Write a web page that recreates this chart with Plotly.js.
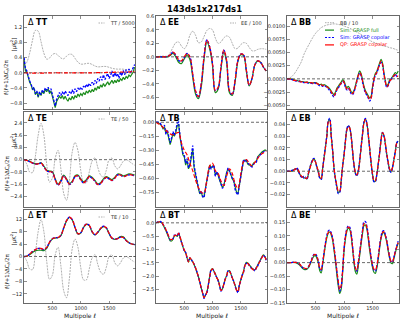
<!DOCTYPE html>
<html><head><meta charset="utf-8">
<script src="https://cdn.plot.ly/plotly-3.0.1.min.js"></script>
<style>html,body{margin:0;padding:0;background:#fff}#chart{width:407px;height:326px}</style>
</head><body><div id="chart"></div>
<script>
// ---------------- data ----------------
const ELL50=[2,50,100,150,200,250,300,350,400,450,
 500,550,600,650,700,750,800,850,900,950,
 1000,1050,1100,1150,1200,1250,1300,1350,1400,1450,
 1500,1550,1600,1650,1700,1750,1800,1850,1900,1950];
const ELL25=[2,25,50,75,100,125,150,175,200,225,
 250,275,300,325,350,375,400,425,450,475,
 500,525,550,575,600,625,650,675,700,725,
 750,775,800,825,850,875,900,925,950,975,
 1000,1025,1050,1075,1100,1125,1150,1175,1200,1225,
 1250,1275,1300,1325,1350,1375,1400,1425,1450,1475,
 1500,1525,1550,1575,1600,1625,1650,1675,1700,1725,
 1750,1775,1800,1825,1850,1875,1900,1925,1950];
const XTICKS=[500,1000,1500];

// reference spectra (muK^2), shown scaled
const TT_REF=[1000,1400,2600,4300,5600,5500,4100,2600,1800,1950,
 2400,2550,2300,1950,1850,2200,2450,2400,1900,1400,
 1150,1150,1230,1250,1100,900,780,800,840,830,
 720,590,520,480,490,470,400,350,310,290];
const EE_REF=[0,0.5,1,1,1,6,14,21,22,16,
 12,18,32,38,32,21,22,30,39,42,
 40,28,20,22,28,31,29,20,12,13,
 18,21,20,14,9,9,11,12,12,11];
const BB_REF=[0,0.002,0.006,0.013,0.022,0.032,0.047,0.058,0.068,0.078,
 0.086,0.092,0.097,0.100,0.102,0.103,0.104,0.104,0.103,0.102,
 0.100,0.098,0.096,0.093,0.090,0.087,0.084,0.080,0.077,0.073,
 0.070,0.068,0.066,0.064,0.062,0.061,0.059,0.058,0.056,0.054];
const TE_REF=[0,-15,-40,-42,10,80,118,80,-15,-73,
 -60,5,30,-30,-110,-132,-70,25,56,30,
 -35,-75,-75,-40,-5,6,-25,-50,-57,-35,
 0,5,-20,-30,-20,-5,0,-5,-12,-18];

// Delta TT
const TT_GREEN=[0.35,0.05,0.02,-0.12,-0.25,-0.32,-0.45,-0.40,-0.58,-0.50,
 -0.65,-0.52,-0.60,-0.48,-0.55,-0.44,-0.50,-0.42,-0.55,-0.48,
 -0.65,-0.76,-0.92,-0.76,-0.70,-0.62,-0.68,-0.60,-0.70,-0.62,
 -0.70,-0.75,-0.66,-0.72,-0.62,-0.70,-0.60,-0.66,-0.56,-0.62,
 -0.55,-0.60,-0.52,-0.58,-0.48,-0.54,-0.46,-0.52,-0.44,-0.50,
 -0.40,-0.46,-0.36,-0.42,-0.32,-0.38,-0.28,-0.36,-0.30,-0.24,
 -0.32,-0.26,-0.20,-0.28,-0.20,-0.26,-0.18,-0.24,-0.16,-0.20,
 -0.12,-0.18,-0.10,-0.14,-0.06,-0.10,-0.04,0.02,0.15];
const TT_BLUE=[0.40,0.10,0.05,-0.10,-0.22,-0.30,-0.42,-0.38,-0.55,-0.48,
 -0.62,-0.50,-0.58,-0.45,-0.52,-0.40,-0.46,-0.38,-0.50,-0.42,
 -0.60,-0.72,-0.88,-0.70,-0.62,-0.52,-0.60,-0.50,-0.58,-0.48,
 -0.55,-0.60,-0.50,-0.56,-0.45,-0.55,-0.42,-0.50,-0.40,-0.46,
 -0.38,-0.44,-0.35,-0.40,-0.30,-0.38,-0.28,-0.34,-0.25,-0.32,
 -0.20,-0.28,-0.15,-0.22,-0.10,-0.20,-0.05,-0.18,-0.10,-0.02,
 -0.15,-0.08,0.05,-0.12,0.00,-0.10,-0.02,-0.15,0.02,-0.08,
 0.06,-0.05,0.08,0.00,0.10,0.02,0.05,0.12,0.22];
const TT_RED=[0,0,-0.01,-0.01,-0.01,-0.01,-0.01,-0.01,-0.005,-0.005,
 -0.005,0,0,0,0,0,0,0,0,0,
 0,0,0,0,0,0,0.005,0.005,0.005,0.01,
 0.01,0.01,0.015,0.015,0.02,0.02,0.025,0.025,0.03,0.03];

// Delta EE
const EE_GREEN=[0,0,0,0,0,0.02,0.05,0.0,-0.08,-0.10,
 -0.03,0.03,-0.04,-0.30,-0.55,-0.62,-0.45,-0.04,0.22,0.12,
 -0.13,-0.53,-0.48,-0.18,0.07,-0.08,-0.53,-0.57,-0.37,-0.07,
 0.03,0.02,-0.22,-0.43,-0.32,-0.12,-0.06,-0.08,-0.15,-0.21];
const EE_BLUE=[0,0,0,0,0,0.03,0.07,0.02,-0.05,-0.07,
 -0.01,0.05,0.0,-0.26,-0.51,-0.60,-0.41,0.0,0.25,0.15,
 -0.10,-0.50,-0.46,-0.15,0.10,-0.05,-0.50,-0.56,-0.35,-0.05,
 0.04,0.03,-0.20,-0.42,-0.32,-0.12,-0.06,-0.08,-0.15,-0.21];
const EE_RED=[0,0,0,0,0,0.03,0.07,0.03,-0.04,-0.06,
 0.0,0.05,0.0,-0.25,-0.50,-0.59,-0.40,0.0,0.25,0.15,
 -0.10,-0.50,-0.45,-0.15,0.10,-0.05,-0.50,-0.55,-0.35,-0.05,
 0.04,0.03,-0.20,-0.42,-0.32,-0.12,-0.06,-0.08,-0.15,-0.21];

// Delta BB
const BB_GREEN=[0,0,0,0,-0.0001,-0.0002,-0.0003,-0.0003,-0.0004,-0.0004,
 -0.0005,-0.0005,-0.0006,-0.0006,-0.0006,-0.0007,-0.0007,-0.0007,-0.0008,-0.0007,
 -0.0007,-0.0008,-0.0010,-0.0011,-0.0010,-0.0012,-0.0011,-0.0012,-0.0014,-0.0016,
 -0.0019,-0.0023,-0.0027,-0.0030,-0.0025,-0.0018,-0.0014,-0.0010,-0.0006,-0.0002,
 -0.0004,-0.0012,-0.0017,-0.0014,-0.0018,-0.0024,-0.0026,-0.0022,-0.0013,-0.0002,
 0.0008,0.0015,0.0010,-0.0002,-0.0014,-0.0022,-0.0027,-0.0032,-0.0036,-0.0033,
 -0.0015,0.0000,0.0010,0.0014,0.0022,0.0030,0.0037,0.0030,0.0012,-0.0003,
 -0.0013,-0.0010,-0.0002,0.0000,0.0004,0.0008,0.0012,0.0010,0.0015];
const BB_BLUE=[0,0,-0.0001,-0.0001,-0.0002,-0.0003,-0.0004,-0.0004,-0.0005,-0.0005,
 -0.0006,-0.0006,-0.0007,-0.0007,-0.0007,-0.0008,-0.0008,-0.0008,-0.0009,-0.0008,
 -0.0008,-0.0010,-0.0011,-0.0013,-0.0012,-0.0014,-0.0013,-0.0014,-0.0016,-0.0019,
 -0.0022,-0.0027,-0.0031,-0.0034,-0.0028,-0.0021,-0.0017,-0.0013,-0.0009,-0.0005,
 -0.0007,-0.0016,-0.0021,-0.0018,-0.0022,-0.0028,-0.0030,-0.0025,-0.0016,-0.0005,
 0.0005,0.0011,0.0006,-0.0006,-0.0018,-0.0026,-0.0031,-0.0036,-0.0042,-0.0037,
 -0.0019,-0.0003,0.0007,0.0011,0.0019,0.0027,0.0031,0.0026,0.0009,-0.0006,
 -0.0016,-0.0013,-0.0005,-0.0001,0.0003,0.0005,0.0009,0.0005,0.0007];
const BB_RED=[0,0,0,-0.0001,-0.0002,-0.0003,-0.0003,-0.0004,-0.0004,-0.0005,
 -0.0006,-0.0005,-0.0006,-0.0007,-0.0006,-0.0007,-0.0008,-0.0007,-0.0008,-0.0008,
 -0.0007,-0.0009,-0.0010,-0.0012,-0.0011,-0.0013,-0.0012,-0.0013,-0.0015,-0.0017,
 -0.0020,-0.0024,-0.0029,-0.0032,-0.0027,-0.0020,-0.0016,-0.0012,-0.0008,-0.0004,
 -0.0006,-0.0014,-0.0019,-0.0016,-0.0020,-0.0026,-0.0028,-0.0024,-0.0015,-0.0004,
 0.0006,0.0012,0.0008,-0.0004,-0.0016,-0.0024,-0.0029,-0.0034,-0.0039,-0.0036,
 -0.0018,-0.0002,0.0008,0.0012,0.0020,0.0028,0.0034,0.0028,0.0010,-0.0005,
 -0.0015,-0.0012,-0.0004,-0.0002,0.0002,0.0006,0.0008,0.0004,0.0006];

// Delta TE
const TE_GREEN=[0,-0.04,-0.10,-0.20,-0.26,-0.26,-0.20,-0.42,-0.68,-0.74,
 -0.78,-1.25,-1.60,-1.35,-1.00,-1.25,-1.55,-1.40,-1.05,-1.00,
 -1.25,-1.45,-1.30,-1.05,-1.15,-1.35,-1.57,-1.50,-1.25,-1.10,
 -1.20,-1.30,-1.15,-0.93,-0.95,-1.05,-1.00,-0.93,-0.95,-1.00];
const TE_BLUE=[0,-0.05,-0.13,-0.23,-0.29,-0.29,-0.23,-0.46,-0.73,-0.79,
 -0.83,-1.31,-1.66,-1.41,-1.06,-1.31,-1.61,-1.46,-1.11,-1.06,
 -1.31,-1.51,-1.36,-1.11,-1.21,-1.41,-1.63,-1.56,-1.31,-1.16,
 -1.26,-1.36,-1.21,-0.99,-1.01,-1.11,-1.06,-0.99,-1.01,-1.06];
const TE_RED=[0,-0.05,-0.12,-0.22,-0.28,-0.28,-0.22,-0.45,-0.72,-0.78,
 -0.82,-1.30,-1.65,-1.40,-1.05,-1.30,-1.60,-1.45,-1.10,-1.05,
 -1.30,-1.50,-1.35,-1.10,-1.20,-1.40,-1.62,-1.55,-1.30,-1.15,
 -1.25,-1.35,-1.20,-0.98,-1.00,-1.10,-1.05,-0.98,-1.00,-1.05];

// Delta TB
const TB_GREEN=[0.0,0.0,-0.01,-0.02,-0.04,-0.07,-0.05,-0.12,-0.10,-0.18,
 -0.24,-0.19,-0.12,-0.15,-0.11,-0.04,-0.02,-0.16,-0.26,-0.35,
 -0.37,-0.46,-0.41,-0.50,-0.47,-0.37,-0.29,-0.49,-0.57,-0.67,
 -0.71,-0.77,-0.75,-0.80,-0.80,-0.71,-0.61,-0.53,-0.46,-0.49,
 -0.47,-0.47,-0.57,-0.54,-0.57,-0.62,-0.66,-0.70,-0.68,-0.59,
 -0.54,-0.50,-0.52,-0.56,-0.61,-0.63,-0.71,-0.75,-0.77,-0.67,
 -0.57,-0.46,-0.41,-0.41,-0.41,-0.45,-0.46,-0.46,-0.47,-0.44,
 -0.43,-0.42,-0.37,-0.35,-0.33,-0.32,-0.31,-0.30,-0.30];
const TB_BLUE=[0.0,0.0,0.0,-0.01,-0.03,-0.06,-0.03,-0.13,-0.08,-0.16,
 -0.22,-0.17,-0.10,-0.14,-0.09,-0.01,0.00,-0.14,-0.24,-0.33,
 -0.35,-0.44,-0.39,-0.49,-0.45,-0.34,-0.25,-0.47,-0.55,-0.66,
 -0.70,-0.76,-0.74,-0.80,-0.81,-0.72,-0.62,-0.54,-0.47,-0.50,
 -0.48,-0.46,-0.58,-0.53,-0.56,-0.62,-0.67,-0.71,-0.69,-0.60,
 -0.55,-0.49,-0.53,-0.55,-0.60,-0.62,-0.72,-0.76,-0.78,-0.68,
 -0.58,-0.47,-0.40,-0.42,-0.40,-0.44,-0.45,-0.47,-0.48,-0.45,
 -0.44,-0.43,-0.38,-0.36,-0.34,-0.33,-0.32,-0.31,-0.31];
const TB_RED=[0,-0.02,-0.04,-0.07,-0.10,-0.125,-0.135,-0.12,-0.11,-0.22,
 -0.30,-0.35,-0.44,-0.52,-0.62,-0.70,-0.75,-0.76,-0.62,-0.47,
 -0.44,-0.52,-0.55,-0.63,-0.68,-0.58,-0.50,-0.55,-0.66,-0.71,
 -0.56,-0.42,-0.40,-0.44,-0.47,-0.43,-0.39,-0.35,-0.33,-0.31];

// Delta EB
const EB_GREEN=[0,0,0,0,0.0005,0.0015,0.002,0.002,0.0,-0.0025,
 -0.0045,-0.005,-0.0055,-0.006,-0.0065,-0.0025,0.0025,0.0065,0.0095,0.0105,
 0.008,0.0035,-0.0005,-0.0055,-0.0065,0.002,0.0115,0.0205,0.0305,0.0425,
 0.044,0.0305,0.018,0.0025,-0.0065,-0.013,-0.018,-0.0175,-0.0085,0.004,
 0.0135,0.0255,0.0355,0.0385,0.037,0.030,0.0175,0.0055,-0.0015,-0.0035,
 0.000,0.0085,0.0205,0.0315,0.0415,0.0445,0.041,0.0315,0.0195,0.0075,
 -0.0025,-0.0085,-0.0085,-0.003,0.006,0.0155,0.0265,0.033,0.0305,0.0235,
 0.0145,0.0075,0.0015,-0.0005,0.003,0.0095,0.0165,0.024,0.0255];
const EB_BLUE=[0,0,0,0.0005,0.001,0.002,0.0015,0.003,0.0,-0.003,
 -0.005,-0.004,-0.006,-0.005,-0.007,-0.002,0.003,0.007,0.010,0.011,
 0.008,0.003,-0.001,-0.006,-0.007,0.002,0.012,0.021,0.031,0.043,
 0.045,0.031,0.018,0.002,-0.007,-0.014,-0.019,-0.018,-0.009,0.004,
 0.014,0.026,0.036,0.039,0.037,0.030,0.017,0.005,-0.002,-0.004,
 0.000,0.009,0.021,0.032,0.042,0.045,0.041,0.031,0.019,0.007,
 -0.003,-0.009,-0.009,-0.003,0.006,0.016,0.027,0.033,0.030,0.023,
 0.014,0.007,0.001,-0.001,0.003,0.010,0.017,0.024,0.026];
const EB_RED=[0,0,0,0,0.0005,0.001,0.002,0.0025,0.0005,-0.002,
 -0.004,-0.005,-0.005,-0.006,-0.006,-0.002,0.002,0.006,0.009,0.010,
 0.008,0.004,0.000,-0.005,-0.006,0.002,0.011,0.020,0.030,0.042,
 0.043,0.030,0.018,0.003,-0.006,-0.012,-0.017,-0.017,-0.008,0.004,
 0.013,0.025,0.035,0.038,0.037,0.030,0.018,0.006,-0.001,-0.003,
 0.000,0.008,0.020,0.031,0.041,0.044,0.041,0.032,0.020,0.008,
 -0.002,-0.008,-0.008,-0.003,0.006,0.015,0.026,0.033,0.031,0.024,
 0.015,0.008,0.002,0.000,0.003,0.009,0.016,0.024,0.025];

// Delta ET
const ET_GREEN=[0,0.1,0.6,1.3,1.8,2.0,2.0,1.9,2.6,4.4,
 5.6,5.9,6.0,6.7,9.1,11.4,12.5,11.7,9.2,7.2,
 7.5,9.3,10.3,9.9,7.9,6.9,7.7,8.9,9.6,9.1,
 7.3,5.8,5.5,5.8,6.4,6.3,5.2,4.4,4.0,3.8];
const ET_BLUE=[0,0.1,0.8,1.6,2.2,2.6,2.5,2.2,2.9,4.6,
 5.7,6.0,6.1,6.8,9.2,11.5,12.6,11.8,9.3,7.3,
 7.6,9.4,10.4,10.0,8.0,7.0,7.8,9.0,9.7,9.2,
 7.4,5.9,5.6,5.7,6.2,6.1,5.1,4.4,4.0,3.8];
const ET_RED=[0,0.1,0.8,1.6,2.2,2.7,2.6,2.2,2.9,4.6,
 5.7,6.0,6.1,6.8,9.2,11.5,12.6,11.8,9.3,7.3,
 7.6,9.4,10.4,10.0,8.0,7.0,7.8,9.0,9.7,9.2,
 7.4,5.9,5.6,5.7,6.2,6.1,5.1,4.4,4.0,3.8];

// Delta BT
const BT_GREEN=[0.0,0.02,0.03,0.03,0.01,-0.08,-0.18,-0.29,-0.42,-0.55,
 -0.67,-0.68,-0.62,-0.50,-0.47,-0.51,-0.40,-0.54,-0.71,-0.89,
 -1.03,-1.13,-1.31,-1.47,-1.31,-1.39,-1.46,-1.57,-1.69,-1.86,
 -2.01,-2.23,-2.43,-2.63,-2.79,-2.71,-2.59,-2.34,-2.01,-1.77,
 -1.71,-1.81,-1.91,-2.05,-2.14,-2.34,-2.52,-2.47,-2.29,-2.11,
 -1.97,-1.81,-1.79,-1.91,-2.05,-2.19,-2.33,-2.51,-2.57,-2.34,
 -2.14,-1.97,-1.81,-1.59,-1.48,-1.50,-1.56,-1.64,-1.70,-1.74,
 -1.76,-1.68,-1.58,-1.48,-1.38,-1.28,-1.20,-1.26,-1.36];
const BT_BLUE=[0.0,0.03,0.02,0.05,0.01,-0.07,-0.14,-0.27,-0.37,-0.52,
 -0.64,-0.62,-0.60,-0.46,-0.47,-0.49,-0.36,-0.54,-0.72,-0.86,
 -1.05,-1.10,-1.33,-1.44,-1.32,-1.36,-1.48,-1.54,-1.70,-1.83,
 -2.03,-2.20,-2.45,-2.60,-2.83,-2.70,-2.63,-2.33,-2.05,-1.76,
 -1.74,-1.80,-1.95,-2.04,-2.18,-2.33,-2.56,-2.46,-2.33,-2.10,
 -2.00,-1.80,-1.82,-1.90,-2.09,-2.18,-2.37,-2.50,-2.62,-2.33,
 -2.18,-1.96,-1.85,-1.58,-1.52,-1.50,-1.60,-1.64,-1.74,-1.74,
 -1.80,-1.68,-1.62,-1.48,-1.42,-1.28,-1.24,-1.26,-1.40];
const BT_RED=[0.0,0.02,0.03,0.04,0.02,-0.06,-0.15,-0.25,-0.38,-0.50,
 -0.62,-0.63,-0.59,-0.48,-0.46,-0.50,-0.38,-0.52,-0.70,-0.88,
 -1.02,-1.12,-1.30,-1.46,-1.30,-1.38,-1.45,-1.56,-1.68,-1.85,
 -2.00,-2.22,-2.42,-2.62,-2.80,-2.72,-2.60,-2.35,-2.02,-1.78,
 -1.72,-1.82,-1.92,-2.06,-2.15,-2.35,-2.53,-2.48,-2.30,-2.12,
 -1.98,-1.82,-1.80,-1.92,-2.06,-2.20,-2.34,-2.52,-2.58,-2.35,
 -2.15,-1.98,-1.82,-1.60,-1.50,-1.52,-1.58,-1.66,-1.72,-1.76,
 -1.78,-1.70,-1.60,-1.50,-1.40,-1.30,-1.22,-1.28,-1.38];

// Delta BE
const BE_GREEN=[0,0,0,0,0.001,0.001,0.0,-0.002,-0.005,-0.010,
 -0.016,-0.022,-0.025,-0.026,-0.025,-0.019,-0.009,0.003,0.016,0.025,
 0.026,0.016,-0.002,-0.030,-0.038,-0.008,0.030,0.066,0.094,0.110,
 0.114,0.104,0.084,0.046,0.004,-0.045,-0.088,-0.115,-0.100,-0.042,
 0.040,0.088,0.117,0.128,0.124,0.099,0.052,0.000,-0.034,-0.043,
 -0.012,0.026,0.070,0.108,0.138,0.140,0.126,0.090,0.046,0.010,
 -0.018,-0.036,-0.040,-0.022,0.012,0.054,0.090,0.108,0.112,0.098,
 0.076,0.044,0.016,-0.002,-0.004,0.014,0.036,0.056,0.073];
const BE_BLUE=[0,0,0,0,0.001,0.002,0.001,0.0,-0.003,-0.007,
 -0.013,-0.018,-0.022,-0.023,-0.022,-0.016,-0.005,0.008,0.022,0.031,
 0.032,0.023,0.004,-0.022,-0.028,0.000,0.038,0.074,0.102,0.118,
 0.121,0.111,0.092,0.056,0.014,-0.033,-0.076,-0.106,-0.090,-0.032,
 0.052,0.098,0.126,0.136,0.132,0.108,0.062,0.010,-0.022,-0.032,
 0.000,0.037,0.082,0.120,0.152,0.153,0.137,0.102,0.058,0.021,
 -0.010,-0.028,-0.032,-0.014,0.021,0.062,0.098,0.116,0.119,0.105,
 0.082,0.051,0.022,0.004,0.002,0.021,0.042,0.061,0.080];
const BE_RED=[0,0,0,0,0.001,0.001,0.001,0.0,-0.002,-0.006,
 -0.012,-0.017,-0.020,-0.022,-0.022,-0.016,-0.006,0.006,0.020,0.029,
 0.030,0.022,0.005,-0.020,-0.025,0.000,0.035,0.070,0.098,0.113,
 0.117,0.108,0.090,0.055,0.015,-0.030,-0.070,-0.100,-0.085,-0.030,
 0.050,0.095,0.122,0.132,0.128,0.105,0.060,0.010,-0.020,-0.028,
 0.000,0.035,0.078,0.115,0.145,0.146,0.132,0.098,0.055,0.020,
 -0.008,-0.024,-0.028,-0.012,0.020,0.060,0.095,0.112,0.115,0.102,
 0.080,0.050,0.022,0.005,0.002,0.020,0.040,0.058,0.075];

// y tick values per panel
const TT_TICKS=[-0.8,-0.4,0,0.4,0.8,1.2];
const EE_TICKS=[-0.6,-0.4,-0.2,0,0.2,0.4,0.6];
const BB_TICKS=[-0.005,-0.0025,0,0.0025,0.005,0.0075,0.01];
const TE_TICKS=[-2.4,-1.6,-0.8,0,0.8,1.6,2.4];
const TB_TICKS=[-0.75,-0.6,-0.45,-0.3,-0.15,0];
const EB_TICKS=[-0.02,-0.01,0,0.01,0.02,0.03,0.04];
const ET_TICKS=[-12,-8,-4,0,4,8,12];
const BT_TICKS=[-2.5,-2,-1.5,-1,-0.5,0];
const BE_TICKS=[-0.15,-0.1,-0.05,0,0.05,0.1,0.15];

// ---------------- layout ----------------
const W=407,H=326;
const COLS=[[24,135.5],[156,267],[287,399]];
const ROWS=[[16,109.5],[112,207],[210,303]];
const px=x=>x/W, py=y=>1-y/H;
const FONT='DejaVu Sans, Arial, sans-serif';
const GREEN='#1a8c1a', BLUE='#0000ff', RED='#ff0000', GRAY='#9a9a9a';

const panels=[
 {k:'TT',ref:[ELL50,TT_REF,5000,'TT / 5000'],g:[ELL25,TT_GREEN,'linear'],b:[ELL25,TT_BLUE,'linear'],r:[ELL50,TT_RED],range:[-0.97,1.5],ticks:TT_TICKS,fmt:'.1f',rdash:'4px,1.5px,1px,1.5px'},
 {k:'EE',ref:[ELL50,EE_REF,100,'EE / 100'],g:[ELL50,EE_GREEN],b:[ELL50,EE_BLUE],r:[ELL50,EE_RED],range:[-0.78,0.605],ticks:EE_TICKS,fmt:'.1f'},
 {k:'BB',ref:[ELL50,BB_REF,10,'BB / 10'],g:[ELL25,BB_GREEN],b:[ELL25,BB_BLUE],r:[ELL25,BB_RED],range:[-0.0058,0.0119],ticks:BB_TICKS,fmt:'.4f'},
 {k:'TE',ref:[ELL50,TE_REF,50,'TE / 50'],g:[ELL50,TE_GREEN],b:[ELL50,TE_BLUE],r:[ELL50,TE_RED],range:[-3.08,3.1],ticks:TE_TICKS,fmt:'.1f'},
 {k:'TB',ref:null,g:[ELL25,TB_GREEN,'linear'],b:[ELL25,TB_BLUE,'linear'],r:[ELL50,TB_RED],range:[-0.91,0.11],ticks:TB_TICKS,fmt:'.2f'},
 {k:'EB',ref:null,g:[ELL25,EB_GREEN],b:[ELL25,EB_BLUE],r:[ELL25,EB_RED],range:[-0.0305,0.0505],ticks:EB_TICKS,fmt:'.2f'},
 {k:'ET',ref:[ELL50,TE_REF,10,'TE / 10'],g:[ELL50,ET_GREEN],b:[ELL50,ET_BLUE],r:[ELL50,ET_RED],range:[-14.9,14.9],ticks:ET_TICKS,fmt:'d'},
 {k:'BT',ref:null,g:[ELL25,BT_GREEN],b:[ELL25,BT_BLUE],r:[ELL25,BT_RED],range:[-3.0,0.48],ticks:BT_TICKS,fmt:'.1f'},
 {k:'BE',ref:null,g:[ELL25,BE_GREEN],b:[ELL25,BE_BLUE],r:[ELL25,BE_RED],range:[-0.1505,0.196],ticks:BE_TICKS,fmt:'.2f'}
];

const data=[], shapes=[], ann=[];
const layout={width:W,height:H,margin:{l:0,r:0,t:0,b:0},paper_bgcolor:'#fff',plot_bgcolor:'#fff',
  showlegend:false,font:{family:FONT,size:5,color:'#222'}};
const axCommon={showline:true,mirror:'ticks',linecolor:'#444',linewidth:0.8,ticks:'inside',ticklen:2.5,
  tickwidth:0.6,tickcolor:'#444',showgrid:false,zeroline:false,tickfont:{family:FONT,size:5,color:'#222'}};

panels.forEach((p,i)=>{
  const n=i===0?'':String(i+1);
  const xa='x'+n, ya='y'+n;
  const r=Math.floor(i/3), c=i%3;
  layout['xaxis'+n]=Object.assign({},axCommon,{domain:[px(COLS[c][0]),px(COLS[c][1])],range:[0,1965],
    anchor:ya,tickvals:XTICKS,showticklabels:r===2});
  layout['yaxis'+n]=Object.assign({},axCommon,{domain:[py(ROWS[r][1]),py(ROWS[r][0])],range:p.range,
    anchor:xa,tickvals:p.ticks,tickformat:p.fmt});
  // zero line
  shapes.push({type:'line',xref:xa+' domain',x0:0,x1:1,yref:ya,y0:0,y1:0,
    line:{color:'#444',width:0.8,dash:'3px,2px'},layer:'below'});
  if(p.ref){
    data.push({x:p.ref[0],y:p.ref[1].map(v=>v/p.ref[2]),xaxis:xa,yaxis:ya,mode:'lines',hoverinfo:'skip',
      line:{color:GRAY,width:0.8,dash:'2px,1px',shape:'spline'}});
  }
  data.push({x:p.g[0],y:p.g[1],xaxis:xa,yaxis:ya,mode:'lines',hoverinfo:'skip',
    line:{color:GREEN,width:1.2,shape:p.g[2]||'spline'}});
  data.push({x:p.b[0],y:p.b[1],xaxis:xa,yaxis:ya,mode:'lines',hoverinfo:'skip',
    line:{color:BLUE,width:1.3,dash:'2.5px,1.5px',shape:p.b[2]||'spline'}});
  data.push({x:p.r[0],y:p.r[1],xaxis:xa,yaxis:ya,mode:'lines',hoverinfo:'skip',
    line:{color:RED,width:1.2,dash:p.rdash||'4px,2px',shape:'spline'}});

  const x0=COLS[c][0], y0=ROWS[r][0];
  // panel label
  ann.push({xref:'paper',yref:'paper',x:px(x0+2),y:py(y0+6),xanchor:'left',yanchor:'middle',showarrow:false,
    text:'Δ <b>'+p.k+'</b>',font:{family:FONT,size:8,color:'#000'}});
  // y label (first column)
  if(c===0){
    ann.push({xref:'paper',yref:'paper',x:px(7),y:py(y0+62),xanchor:'center',yanchor:'middle',showarrow:false,
      textangle:-90,text:'ℓ(ℓ+1)ΔC<sub>ℓ</sub>/2π',font:{family:FONT,size:5.5,color:'#222'}});
    ann.push({xref:'paper',yref:'paper',x:px(13.5),y:py(y0+28),xanchor:'center',yanchor:'middle',showarrow:false,
      textangle:-90,text:'[μK<sup>2</sup>]',font:{family:FONT,size:5.5,color:'#222'}});
  }
  // x label (bottom row)
  if(r===2){
    ann.push({xref:'paper',yref:'paper',x:px((COLS[c][0]+COLS[c][1])/2),y:py(315.5),xanchor:'center',yanchor:'middle',
      showarrow:false,text:'Multipole ℓ',font:{family:FONT,size:6,color:'#222'}});
  }
  // single-entry legend for reference curve
  if(p.ref && p.k!=='BB'){
    const lx=COLS[c][1]-37, ly=y0+7;
    shapes.push({type:'line',xref:'paper',yref:'paper',x0:px(lx),x1:px(lx+6),y0:py(ly),y1:py(ly),
      line:{color:GRAY,width:0.8,dash:'1.5px,1px'}});
    ann.push({xref:'paper',yref:'paper',x:px(lx+9),y:py(ly),xanchor:'left',yanchor:'middle',showarrow:false,
      text:p.ref[3],font:{family:FONT,size:5,color:'#333'}});
  }
});

// BB legend
const LEG=[['BB / 10',GRAY,'1.5px,1px',0.8,'#333'],['Sim: GRASP full',GREEN,'solid',1.2,GREEN],
  ['Sim: GRASP copolar',BLUE,'2px,1.5px',1.2,BLUE],['QP: GRASP copolar',RED,'solid',1.2,RED]];
LEG.forEach((e,j)=>{
  const ly=22.7+j*7.4;
  shapes.push({type:'line',xref:'paper',yref:'paper',x0:px(325),x1:px(334),y0:py(ly),y1:py(ly),
    line:{color:e[1],width:e[3],dash:e[2]}});
  ann.push({xref:'paper',yref:'paper',x:px(338),y:py(ly),xanchor:'left',yanchor:'middle',showarrow:false,
    text:e[0],font:{family:FONT,size:5,color:e[4]}});
});

// title
ann.push({xref:'paper',yref:'paper',x:px(204),y:py(9.5),xanchor:'center',yanchor:'middle',showarrow:false,
  text:'<b>143ds1x217ds1</b>',font:{family:FONT,size:8.5,color:'#000'}});

layout.shapes=shapes; layout.annotations=ann;
Plotly.newPlot('chart',data,layout,{staticPlot:true,displayModeBar:false});
</script></body></html>
